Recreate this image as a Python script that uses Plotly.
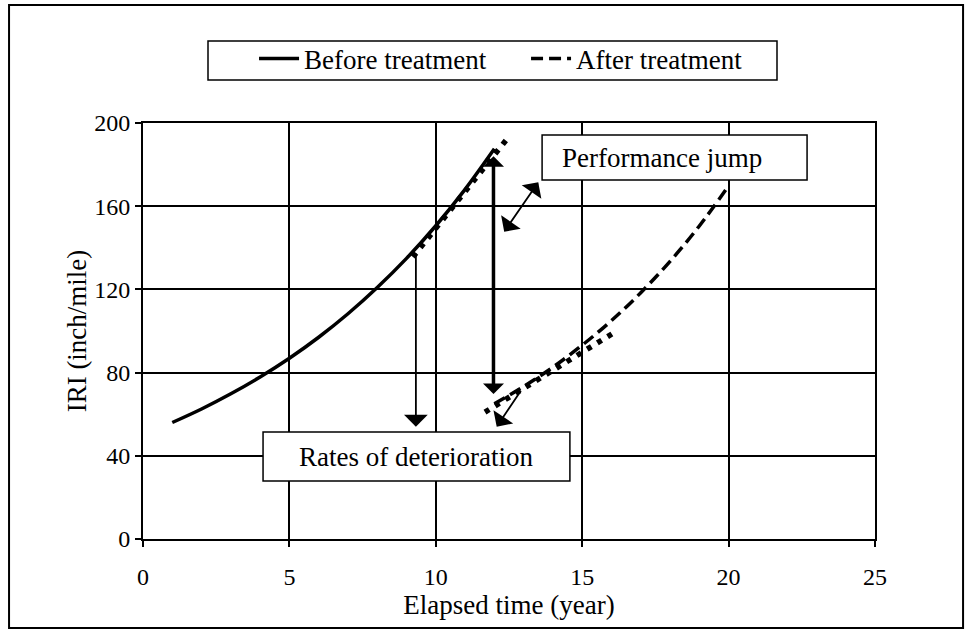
import plotly.graph_objects as go

# ---- data ----
before_x = [1, 2, 3, 4, 5, 6, 7, 8, 9, 10, 11, 12]
before_y = [56, 62.5, 69.8, 77.9, 86.9, 97.0, 108.3, 120.9, 134.9, 150.6, 168.1, 187.6]
after_x = [12, 13, 14, 15, 16, 17, 18, 19, 20]
after_y = [65, 73.3, 82.6, 93.2, 105, 118.4, 133.5, 150.5, 169.8]
rate_before_x = [9.22, 12.47]
rate_before_y = [135.6, 193]
rate_after_x = [11.68, 16.12]
rate_after_y = [61, 99.5]
x_ticks = [0, 5, 10, 15, 20, 25]
y_ticks = [0, 40, 80, 120, 160, 200]

FONT = "Liberation Serif"

fig = go.Figure()
fig.add_trace(go.Scatter(x=before_x, y=before_y, mode="lines", name="Before treatment",
                         line=dict(color="black", width=3.5, shape="spline")))
fig.add_trace(go.Scatter(x=after_x, y=after_y, mode="lines", name="After treatment",
                         line=dict(color="black", width=3.5, dash="12px,6px", shape="spline")))
fig.add_trace(go.Scatter(x=rate_before_x, y=rate_before_y, mode="lines", showlegend=False,
                         line=dict(color="black", width=5.5, dash="5px,7px")))
fig.add_trace(go.Scatter(x=rate_after_x, y=rate_after_y, mode="lines", showlegend=False,
                         line=dict(color="black", width=5.5, dash="5px,7px")))

annotations = []
def arrow(x0, y0, x1, y1, width, size, side="end"):
    annotations.append(dict(x=x1, y=y1, ax=x0, ay=y0, xref="x", yref="y", axref="x", ayref="y",
                            text="", showarrow=True, arrowhead=1, startarrowhead=1,
                            arrowside=side, arrowwidth=width, arrowsize=size,
                            startarrowsize=size, arrowcolor="black", standoff=0, startstandoff=0))

arrow(9.32, 138, 9.32, 54, 1.8, 2.2)
arrow(11.97, 69, 11.97, 184, 3.5, 1.0, "end+start")
arrow(12.3, 147, 13.5, 171.5, 1.8, 2.2, "end+start")
arrow(12.94, 72, 12.08, 54, 1.8, 2.2)

annotations.append(dict(x=14.24, y=183.4, xref="x", yref="y", xanchor="left", yanchor="middle",
                        text="Performance jump", showarrow=False,
                        font=dict(family=FONT, size=27, color="black")))
annotations.append(dict(x=9.32, y=39.6, xref="x", yref="y", xanchor="center", yanchor="middle",
                        text="Rates of deterioration", showarrow=False,
                        font=dict(family=FONT, size=27, color="black")))

shapes = [
    dict(type="rect", xref="x", yref="y", x0=13.63, x1=22.68, y0=172.6, y1=194.2,
         line=dict(color="black", width=1.5), fillcolor="white", layer="above"),
    dict(type="rect", xref="x", yref="y", x0=4.10, x1=14.58, y0=27.9, y1=51.4,
         line=dict(color="black", width=1.5), fillcolor="white", layer="above"),
    # outer frame
    dict(type="rect", xref="paper", yref="paper", x0=-0.183, x1=1.1203, y0=-0.214, y1=1.2837,
         line=dict(color="black", width=2), fillcolor="rgba(0,0,0,0)", layer="below"),
    # legend frame
    dict(type="rect", xref="paper", yref="paper", x0=(208 - 143) / 732, x1=(777 - 143) / 732,
         y0=(539 - 80) / 416, y1=(539 - 41) / 416,
         line=dict(color="black", width=1.5), fillcolor="white", layer="below"),
]

fig.update_layout(
    width=966, height=630,
    margin=dict(l=143, r=91, t=123, b=91),
    paper_bgcolor="white", plot_bgcolor="white",
    font=dict(family=FONT, size=24, color="black"),
    showlegend=True,
    legend=dict(orientation="h", x=0.1517, y=(539 - 59) / 416, xanchor="left", yanchor="middle",
                borderwidth=0, bgcolor="rgba(0,0,0,0)",
                font=dict(family=FONT, size=27, color="black"),
                entrywidth=217, itemwidth=40),
    annotations=annotations,
    shapes=shapes,
)
fig.update_xaxes(range=[0, 25], tickvals=x_ticks, ticks="outside", ticklen=6, tickwidth=1.5,
                 tickcolor="black", showgrid=True, gridcolor="black", gridwidth=2,
                 showline=True, linecolor="black", linewidth=2, mirror=True, zeroline=False,
                 ticklabelstandoff=9, tickfont=dict(family=FONT, size=24),
                 title=dict(text="Elapsed time (year)", font=dict(family=FONT, size=27), standoff=1))
fig.update_yaxes(range=[0, 200], tickvals=y_ticks, ticks="outside", ticklen=6, tickwidth=1.5,
                 tickcolor="black", showgrid=True, gridcolor="black", gridwidth=2,
                 showline=True, linecolor="black", linewidth=2, mirror=True, zeroline=False,
                 tickfont=dict(family=FONT, size=24),
                 title=dict(text="IRI (inch/mile)", font=dict(family=FONT, size=27), standoff=0))

fig.write_html("out.html")
